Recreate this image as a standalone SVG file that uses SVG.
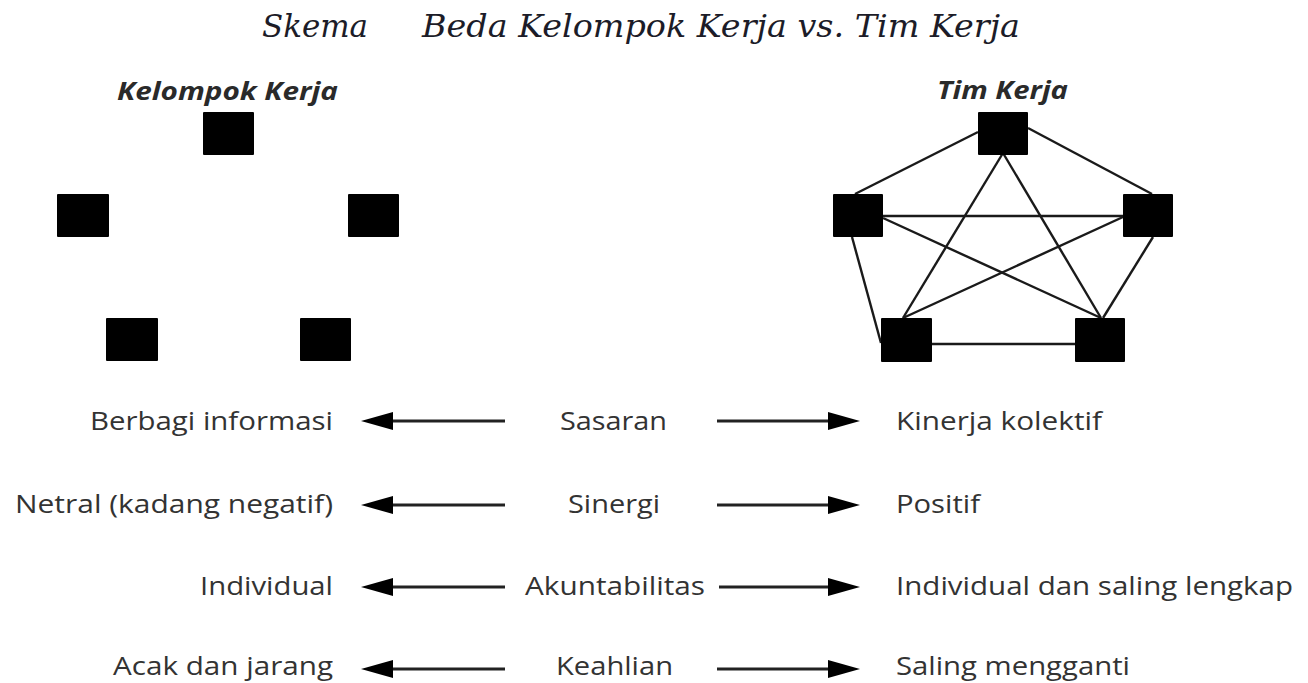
<svg xmlns="http://www.w3.org/2000/svg" width="1308" height="683" viewBox="0 0 1308 683">
  <style>
    .title { font-family: "DejaVu Serif", "Liberation Serif", serif; font-style: italic; font-size: 31px; fill: #1c1c28; }
    .head { font-family: "Open Sans", "Liberation Sans", sans-serif; font-style: italic; font-weight: bold; font-size: 25px; fill: #2a2a2a; }
    .lbl { font-family: "Open Sans", "Liberation Sans", sans-serif; font-size: 26px; fill: #333; }
    .lbl4 { font-family: "Open Sans", "Liberation Sans", sans-serif; font-size: 25px; fill: #333; }
    .sq { fill: #000; }
    .edge { stroke: #1a1a1a; stroke-width: 2.4; fill: none; }
    .arr { stroke: #222; stroke-width: 3; fill: none; marker-end: url(#ah); }
  </style>
  <defs>
    <marker id="ah" viewBox="0 0 32 18" refX="8" refY="9" markerWidth="32" markerHeight="18" markerUnits="userSpaceOnUse" orient="auto">
      <path d="M0,0 L32,9 L0,18 Z" fill="#000"/>
    </marker>
  </defs>
  <rect width="1308" height="683" fill="#fff"/>

  <g id="title">
    <text class="title" x="262" y="37" textLength="106" lengthAdjust="spacingAndGlyphs">Skema</text>
    <text class="title" x="422" y="37" textLength="598" lengthAdjust="spacingAndGlyphs">Beda Kelompok Kerja vs. Tim Kerja</text>
  </g>

  <g id="head-kelompok"><text class="head" x="117" y="100" textLength="221" lengthAdjust="spacingAndGlyphs">Kelompok Kerja</text></g>
  <g id="head-tim"><text class="head" x="937" y="99" textLength="131" lengthAdjust="spacingAndGlyphs">Tim Kerja</text></g>

  <!-- Kelompok Kerja nodes -->
  <g id="k1"><rect class="sq" x="203" y="112" width="51" height="43" rx="1"/></g>
  <g id="k2"><rect class="sq" x="57" y="194" width="52" height="43" rx="1"/></g>
  <g id="k3"><rect class="sq" x="348" y="194" width="51" height="43" rx="1"/></g>
  <g id="k4"><rect class="sq" x="106" y="318" width="52" height="43" rx="1"/></g>
  <g id="k5"><rect class="sq" x="300" y="318" width="51" height="43" rx="1"/></g>

  <!-- Tim Kerja connectors -->
  <g id="connectors">
    <line class="edge" x1="978" y1="132" x2="855" y2="194"/>
    <line class="edge" x1="1028" y1="128" x2="1152" y2="194"/>
    <line class="edge" x1="883" y1="216" x2="1123" y2="216"/>
    <line class="edge" x1="1003" y1="153" x2="903" y2="318"/>
    <line class="edge" x1="1003" y1="153" x2="1101" y2="318"/>
    <line class="edge" x1="883" y1="218" x2="1101" y2="318"/>
    <line class="edge" x1="1123" y1="217" x2="903" y2="318"/>
    <line class="edge" x1="852" y1="237" x2="881" y2="343"/>
    <line class="edge" x1="1153" y1="237" x2="1103" y2="318"/>
    <line class="edge" x1="932" y1="344" x2="1075" y2="344"/>
  </g>

  <!-- Tim Kerja nodes -->
  <g id="t1"><rect class="sq" x="978" y="112" width="50" height="43" rx="1"/></g>
  <g id="t2"><rect class="sq" x="833" y="194" width="50" height="43" rx="1"/></g>
  <g id="t3"><rect class="sq" x="1123" y="194" width="50" height="43" rx="1"/></g>
  <g id="t4"><rect class="sq" x="881" y="318" width="51" height="44" rx="1"/></g>
  <g id="t5"><rect class="sq" x="1075" y="318" width="50" height="44" rx="1"/></g>

  <!-- comparison arrows -->
  <g id="arrows">
    <line class="arr" x1="505" y1="421" x2="385" y2="421"/>
    <line class="arr" x1="717" y1="421" x2="836" y2="421"/>
    <line class="arr" x1="505" y1="505" x2="385" y2="505"/>
    <line class="arr" x1="717" y1="505" x2="836" y2="505"/>
    <line class="arr" x1="505" y1="587" x2="385" y2="587"/>
    <line class="arr" x1="719" y1="587" x2="836" y2="587"/>
    <line class="arr" x1="505" y1="669" x2="385" y2="669"/>
    <line class="arr" x1="717" y1="669" x2="836" y2="669"/>
  </g>

  <!-- left labels -->
  <g id="l1"><text class="lbl" x="90" y="430" textLength="243" lengthAdjust="spacingAndGlyphs">Berbagi informasi</text></g>
  <g id="l2"><text class="lbl" x="15" y="513" textLength="318" lengthAdjust="spacingAndGlyphs">Netral (kadang negatif)</text></g>
  <g id="l3"><text class="lbl" x="200" y="595" textLength="133" lengthAdjust="spacingAndGlyphs">Individual</text></g>
  <g id="l4"><text class="lbl4" x="113" y="675" textLength="220" lengthAdjust="spacingAndGlyphs">Acak dan jarang</text></g>

  <!-- center labels -->
  <g id="c1"><text class="lbl" x="560" y="430" textLength="107" lengthAdjust="spacingAndGlyphs">Sasaran</text></g>
  <g id="c2"><text class="lbl" x="568" y="513" textLength="92" lengthAdjust="spacingAndGlyphs">Sinergi</text></g>
  <g id="c3"><text class="lbl" x="525" y="595" textLength="180" lengthAdjust="spacingAndGlyphs">Akuntabilitas</text></g>
  <g id="c4"><text class="lbl4" x="556" y="675" textLength="117" lengthAdjust="spacingAndGlyphs">Keahlian</text></g>

  <!-- right labels -->
  <g id="r1"><text class="lbl" x="896" y="430" textLength="206" lengthAdjust="spacingAndGlyphs">Kinerja kolektif</text></g>
  <g id="r2"><text class="lbl" x="896" y="513" textLength="84" lengthAdjust="spacingAndGlyphs">Positif</text></g>
  <g id="r3"><text class="lbl" x="896" y="595" textLength="397" lengthAdjust="spacingAndGlyphs">Individual dan saling lengkap</text></g>
  <g id="r4"><text class="lbl4" x="896" y="675" textLength="234" lengthAdjust="spacingAndGlyphs">Saling mengganti</text></g>
</svg>
